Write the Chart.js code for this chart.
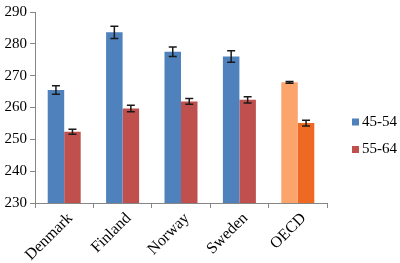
<!DOCTYPE html>
<html>
<head>
<meta charset="utf-8">
<script src="https://cdn.jsdelivr.net/npm/chart.js@4"></script>
<style>
  html, body { margin: 0; padding: 0; background: #fff; }
  #wrap { width: 400px; height: 263px; }
</style>
</head>
<body>
<div id="wrap"><canvas id="chart"></canvas></div>
<script>
const countries = ['Denmark', 'Finland', 'Norway', 'Sweden', 'OECD'];
const age4554 = [265.5, 283.6, 277.5, 276.0, 267.9];
const err4554 = [1.3, 1.9, 1.5, 1.8, 0.3];
const age5564 = [252.4, 259.7, 261.9, 262.4, 255.1];
const err5564 = [0.8, 1.0, 0.9, 1.0, 0.9];
const seriesNames = ['45-54', '55-64'];

const blue = '#4F81BD';
const red = '#C0504D';
const oecdLight = '#FBA46C';
const oecdDark = '#EE6A22';

// error bars, drawn through the y scale
const errorBars = {
    id: 'errorBars',
    afterDatasetsDraw(chart) {
        const ctx = chart.ctx;
        const y = chart.scales.y;
        const errs = [err4554, err5564];
        ctx.save();
        ctx.strokeStyle = '#1a1a1a';
        ctx.lineWidth = 1.5;
        chart.data.datasets.forEach((ds, i) => {
            chart.getDatasetMeta(i).data.forEach((bar, j) => {
                const v = ds.data[j];
                const top = y.getPixelForValue(v + errs[i][j]);
                const bot = y.getPixelForValue(v - errs[i][j]);
                const x = bar.x;
                ctx.beginPath();
                ctx.moveTo(x, top); ctx.lineTo(x, bot);
                ctx.moveTo(x - 4, top); ctx.lineTo(x + 4, top);
                ctx.moveTo(x - 4, bot); ctx.lineTo(x + 4, bot);
                ctx.stroke();
            });
        });
        ctx.restore();
    }
};

// legend on the right
const sideLegend = {
    id: 'sideLegend',
    afterDraw(chart) {
        const ctx = chart.ctx;
        const cols = [blue, red];
        ctx.save();
        ctx.font = '15px "Liberation Serif"';
        ctx.textBaseline = 'middle';
        seriesNames.forEach((name, i) => {
            const cy = 122 + i * 27.5;
            ctx.fillStyle = cols[i];
            ctx.fillRect(352, cy - 3.5, 7, 7);
            ctx.fillStyle = '#000';
            ctx.fillText(name, 362, cy);
        });
        ctx.restore();
    }
};

const ctx = document.querySelector('#chart').getContext('2d');
const chart = new Chart(ctx, {
    type: 'bar',
    data: {
        labels: countries,
        datasets: [{
            label: seriesNames[0],
            data: age4554,
            backgroundColor: [blue, blue, blue, blue, oecdLight]
        },
        {
            label: seriesNames[1],
            data: age5564,
            backgroundColor: [red, red, red, red, oecdDark]
        }]
    },
    options: {
        responsive: true,
        maintainAspectRatio: false,
        animation: false,
        categoryPercentage: 0.565,
        barPercentage: 1,
        layout: {
            padding: { top: 10, right: 73, left: 0, bottom: 0 }
        },
        scales: {
            x: {
                afterFit(scale) { scale.height = 60; },
                border: { color: '#868686', width: 1 },
                grid: {
                    display: true,
                    offset: true,
                    drawOnChartArea: false,
                    drawTicks: true,
                    tickLength: 5,
                    color: '#868686'
                },
                ticks: {
                    color: '#000',
                    maxRotation: 45,
                    minRotation: 45,
                    padding: 1,
                    labelOffset: 6,
                    font: { family: 'Liberation Serif', size: 16 }
                }
            },
            y: {
                min: 230,
                max: 290,
                afterFit(scale) { scale.width = 35; },
                border: { color: '#868686', width: 1 },
                grid: {
                    display: true,
                    drawOnChartArea: false,
                    drawTicks: true,
                    tickLength: 5,
                    color: '#868686'
                },
                ticks: {
                    stepSize: 10,
                    color: '#000',
                    padding: 3,
                    font: { family: 'Liberation Serif', size: 15 }
                }
            }
        },
        plugins: {
            legend: { display: false },
            tooltip: { enabled: false }
        }
    },
    plugins: [errorBars, sideLegend]
});
</script>
</body>
</html>
